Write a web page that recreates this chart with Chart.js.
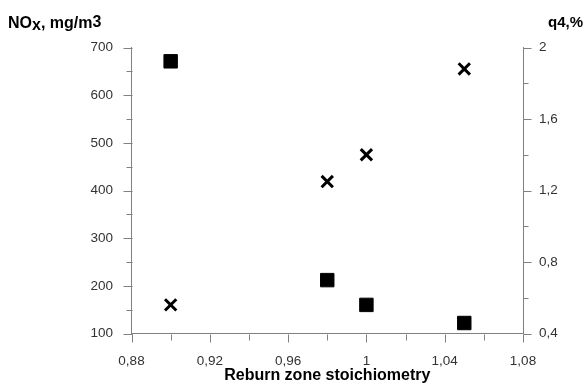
<!DOCTYPE html>
<html>
<head>
<meta charset="utf-8">
<script src="https://cdn.jsdelivr.net/npm/chart.js@4.4.1/dist/chart.umd.min.js"></script>
<style>
  html, body { margin: 0; padding: 0; background: #ffffff; }
  #wrap { position: relative; width: 588px; height: 383px; overflow: hidden; }
  canvas { position: absolute; left: 0; top: 0; }
  .ttl { position: absolute; font-family: "Liberation Sans", Arial, sans-serif; font-weight: bold; color: #000; white-space: nowrap; }
</style>
</head>
<body>
<div id="wrap">
  <canvas id="c" width="588" height="383"></canvas>
  <div class="ttl" id="tl" style="left:8px; top:15px; font-size:16px; line-height:16px;">NO<span style="position:relative; top:2px;">x</span>, mg/m<span style="position:relative; top:-1.5px;">3</span></div>
  <div class="ttl" id="tr" style="right:5px; top:13.5px; font-size:15px; line-height:15px;">q4,%</div>
  <div class="ttl" id="tx" style="left:127.3px; width:400px; text-align:center; top:367px; font-size:16px; line-height:16px;">Reburn zone stoichiometry</div>
</div>
<script>
// ---- data ----
const stoich = [0.90, 0.98, 1.00, 1.05];
const noxValues = [671, 212, 160, 122];
const q4Values = [0.56, 1.25, 1.40, 1.88];

const xTickLabels = ['0,88', '0,92', '0,96', '1', '1,04', '1,08'];
const noxTickLabels = ['100', '200', '300', '400', '500', '600', '700'];
const q4TickLabels = ['0,4', '0,8', '1,2', '1,6', '2'];

const axisColor = '#808080';
const tickColor = '#333333';
const tickFont = { family: '"Liberation Sans", Arial, sans-serif', size: 13.5 };

const minorTicks = {
  id: 'minorTicks',
  afterDraw(chart) {
    const ctx = chart.ctx;
    ctx.save();
    ctx.strokeStyle = axisColor;
    ctx.lineWidth = 1;
    ctx.beginPath();
    const sx = chart.scales.x;
    sx.ticks.forEach((t, i) => {
      const len = i % 2 === 0 ? 8 : 6;
      const p = Math.round(sx.getPixelForValue(t.value)) + 0.5;
      const y0 = Math.round(sx.top) + 0.5;
      ctx.moveTo(p, y0);
      ctx.lineTo(p, y0 + len);
    });
    const sy = chart.scales.y;
    sy.ticks.forEach((t, i) => {
      const len = i % 2 === 0 ? 9 : 6;
      const p = Math.round(sy.getPixelForValue(t.value)) + 0.5;
      const x0 = Math.round(sy.right) + 0.5;
      ctx.moveTo(x0, p);
      ctx.lineTo(x0 - len, p);
    });
    const sy1 = chart.scales.y1;
    sy1.ticks.forEach((t, i) => {
      const len = i % 2 === 0 ? 8 : 5;
      const p = Math.round(sy1.getPixelForValue(t.value)) + 0.5;
      const x0 = Math.round(sy1.left) + 0.5;
      ctx.moveTo(x0, p);
      ctx.lineTo(x0 + len, p);
    });
    ctx.stroke();
    ctx.restore();
  }
};

new Chart(document.getElementById('c'), {
  type: 'scatter',
  data: {
    datasets: [
      {
        label: 'NOx',
        data: stoich.map((x, i) => ({ x: x, y: noxValues[i] })),
        yAxisID: 'y',
        pointStyle: 'rect',
        pointRadius: 9.5,
        pointHoverRadius: 9.5,
        backgroundColor: '#000',
        borderColor: '#000',
        borderWidth: 1
      },
      {
        label: 'q4',
        data: stoich.map((x, i) => ({ x: x, y: q4Values[i] })),
        yAxisID: 'y1',
        pointStyle: 'crossRot',
        pointRadius: 8,
        pointHoverRadius: 8,
        backgroundColor: '#000',
        borderColor: '#000',
        borderWidth: 3
      }
    ]
  },
  options: {
    responsive: false,
    animation: false,
    events: [],
    layout: { padding: { top: 47.5, left: 0, right: 0, bottom: 0 } },
    plugins: { legend: { display: false }, tooltip: { enabled: false } },
    scales: {
      x: {
        type: 'linear',
        position: 'bottom',
        min: 0.88,
        max: 1.08,
        afterFit: s => { s.height = 49.5; },
        border: { display: true, color: axisColor, width: 1 },
        grid: { display: true, drawOnChartArea: false, drawTicks: false },
        ticks: {
          stepSize: 0.02,
          autoSkip: false,
          maxRotation: 0,
          padding: 19.5,
          color: tickColor,
          font: tickFont,
          callback: (v, i) => (i % 2 === 0 ? xTickLabels[i / 2] : '')
        }
      },
      y: {
        type: 'linear',
        position: 'left',
        min: 100,
        max: 700,
        afterFit: s => { s.width = 131.5; },
        border: { display: true, color: axisColor, width: 1 },
        grid: { display: true, drawOnChartArea: false, drawTicks: false },
        ticks: {
          stepSize: 50,
          autoSkip: false,
          padding: 18.5,
          color: tickColor,
          font: tickFont,
          callback: (v, i) => (i % 2 === 0 ? noxTickLabels[i / 2] : '')
        }
      },
      y1: {
        type: 'linear',
        position: 'right',
        min: 0.4,
        max: 2,
        afterFit: s => { s.width = 65; },
        border: { display: true, color: axisColor, width: 1 },
        grid: { display: true, drawOnChartArea: false, drawTicks: false },
        ticks: {
          stepSize: 0.2,
          autoSkip: false,
          padding: 16,
          color: tickColor,
          font: tickFont,
          callback: (v, i) => (i % 2 === 0 ? q4TickLabels[i / 2] : '')
        }
      }
    }
  },
  plugins: [minorTicks]
});
</script>
</body>
</html>
